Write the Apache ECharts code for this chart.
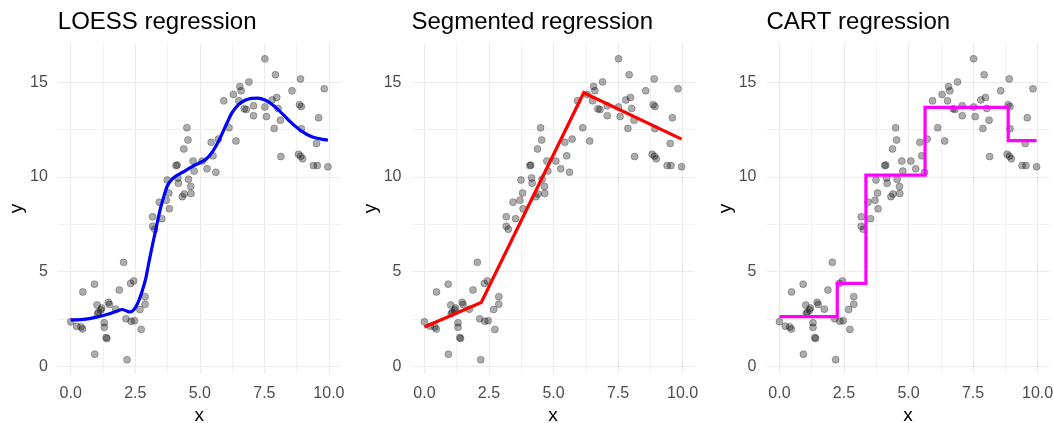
<!DOCTYPE html>
<html>
<head>
<meta charset="utf-8">
<script src="https://cdn.jsdelivr.net/npm/echarts@6/dist/echarts.min.js"></script>
<style>
  html, body { margin: 0; padding: 0; background: #ffffff; }
  #chart { width: 1053px; height: 423px; }
</style>
</head>
<body>
<div id="chart"></div>
<script>
// Observations (x, y)
const obsX = [
  0.00, 0.23, 0.40, 0.46, 0.47, 0.92, 0.93, 1.02, 1.04, 1.08,
  1.20, 1.17, 1.30, 1.30, 1.37, 1.40, 1.46, 1.50, 1.74, 1.88,
  2.05, 2.14, 2.18, 2.32, 2.34, 2.44, 2.47, 2.68, 2.73, 2.88,
  2.88, 3.17, 3.17, 3.25, 3.43, 3.53, 3.70, 3.82, 3.80, 3.74,
  4.08, 4.12, 4.15, 4.17, 4.32, 4.40, 4.38, 4.50, 4.54, 4.56,
  4.65, 4.66, 4.74, 4.78, 5.09, 5.28, 5.44, 5.51, 5.62, 5.72,
  5.93, 6.13, 6.30, 6.40, 6.51, 6.55, 6.60, 6.72, 6.80, 6.90,
  7.08, 7.08, 7.52, 7.52, 7.58, 7.80, 7.88, 7.93, 7.98, 8.03,
  8.12, 8.14, 8.57, 8.86, 8.90, 8.93, 8.93, 8.82, 8.91, 8.98,
  9.40, 9.55, 9.52, 9.60, 9.82, 9.96
];
const obsY = [
  2.35, 2.12, 2.08, 1.97, 3.93, 4.34, 0.64, 3.24, 2.78, 2.86,
  3.08, 2.97, 2.30, 2.06, 1.52, 1.47, 3.38, 3.26, 3.02, 4.03,
  5.49, 2.51, 0.35, 4.38, 2.38, 4.51, 2.41, 3.00, 1.95, 3.68,
  3.28, 7.90, 7.40, 7.24, 8.67, 7.80, 8.77, 8.32, 9.15, 9.84,
  10.60, 10.63, 9.95, 9.67, 8.96, 9.10, 11.48, 12.60, 11.95, 9.88,
  9.50, 9.13, 10.84, 10.31, 10.84, 10.43, 11.83, 11.12, 10.25, 12.00,
  14.02, 12.60, 14.36, 11.90, 14.02, 14.78, 14.55, 13.60, 13.56, 15.02,
  13.24, 13.76, 16.24, 13.70, 13.19, 14.07, 12.56, 15.40, 14.20, 13.62,
  13.00, 11.08, 14.55, 13.82, 15.18, 13.72, 12.55, 11.20, 11.10, 10.96,
  10.60, 10.60, 11.77, 13.13, 14.66, 10.54
];

// LOESS fit, evaluated along x
const loessX = [0, 0.5, 1.0, 1.5, 1.75, 2.0, 2.15, 2.3, 2.45, 2.6, 2.75, 2.9, 3.0, 3.15,
  3.3, 3.45, 3.6, 3.75, 3.9, 4.1, 4.4, 4.7, 5.0, 5.25, 5.5, 5.75, 6.0, 6.25, 6.5, 6.75,
  7.0, 7.25, 7.5, 7.75, 8.0, 8.25, 8.5, 8.75, 9.0, 9.25, 9.5, 9.75, 9.96];
const loessY = [2.45, 2.48, 2.6, 2.78, 2.9, 3.0, 2.93, 2.87, 3.0, 3.35, 3.9, 4.6, 5.3, 6.3,
  7.25, 8.2, 8.95, 9.55, 9.85, 10.07, 10.3, 10.55, 10.75, 10.95, 11.35, 11.95, 12.7, 13.4, 13.82, 14.05,
  14.15, 14.17, 14.08, 13.88, 13.6, 13.27, 12.92, 12.62, 12.37, 12.18, 12.06, 11.99, 11.95];

// Segmented fit (breakpoints)
const segX = [0, 2.2, 6.17, 9.96];
const segY = [2.08, 3.37, 14.45, 12.0];

// CART fit (split points and leaf values)
const cartX = [0, 2.24, 3.35, 5.64, 8.86, 9.96];
const cartY = [2.62, 4.38, 10.1, 13.68, 11.92, 11.92];

const panelTitles = ['LOESS regression', 'Segmented regression', 'CART regression'];
const xTickValues = [0, 2.5, 5, 7.5, 10];
const yTickValues = [0, 5, 10, 15];
const xMinorValues = [1.25, 3.75, 6.25, 8.75];
const yMinorValues = [2.5, 7.5, 12.5];

const FONT = 'Liberation Sans, Arial, Helvetica, sans-serif';
const panelLeft = [57.8, 411.5, 766.5];
const panelW = 283;
const panelTop = 43.5;
const panelH = 330;
const xRange = [-0.5, 10.46];
const yRange = [-0.38, 17.05];

const zip = (a, b) => a.map((v, i) => [v, b[i]]);
const points = zip(obsX, obsY);

function gridLines() {
  const major = { color: '#ebebeb', width: 1.1, type: 'solid' };
  const minor = { color: '#f1f1f1', width: 1, type: 'solid' };
  const d = [];
  xTickValues.forEach(v => d.push({ xAxis: v, lineStyle: major }));
  xMinorValues.forEach(v => d.push({ xAxis: v, lineStyle: minor }));
  yTickValues.forEach(v => d.push({ yAxis: v, lineStyle: major }));
  yMinorValues.forEach(v => d.push({ yAxis: v, lineStyle: minor }));
  return d;
}

const grids = [], xAxes = [], yAxes = [], series = [], titles = [];
const fits = [
  { data: zip(loessX, loessY), color: '#0000ff', smooth: 0.25, step: false },
  { data: zip(segX, segY), color: '#ff0000', smooth: false, step: false },
  { data: zip(cartX, cartY), color: '#ff00ff', smooth: false, step: 'end' }
];

for (let i = 0; i < 3; i++) {
  grids.push({
    left: panelLeft[i], top: panelTop, width: panelW, height: panelH,
    containLabel: false, outerBoundsMode: 'none'
  });
  titles.push({
    text: panelTitles[i], left: panelLeft[i], top: 10, padding: 0,
    textStyle: { fontFamily: FONT, fontSize: 24, fontWeight: 'normal', color: '#000000' }
  });
  xAxes.push({
    type: 'value', gridIndex: i, min: xRange[0], max: xRange[1],
    name: 'x', nameLocation: 'middle', nameGap: 33,
    nameTextStyle: { fontFamily: FONT, fontSize: 19, color: '#000000' },
    axisLine: { show: false }, axisTick: { show: false }, splitLine: { show: false },
    axisLabel: {
      customValues: xTickValues, margin: 12,
      fontFamily: FONT, fontSize: 16, color: '#4d4d4d',
      formatter: v => Number(v).toFixed(1)
    }
  });
  yAxes.push({
    type: 'value', gridIndex: i, min: yRange[0], max: yRange[1],
    name: 'y', nameLocation: 'middle', nameGap: 29, nameRotate: 90,
    nameTextStyle: { fontFamily: FONT, fontSize: 19, color: '#000000' },
    axisLine: { show: false }, axisTick: { show: false }, splitLine: { show: false },
    axisLabel: {
      customValues: yTickValues, margin: 10,
      fontFamily: FONT, fontSize: 16, color: '#4d4d4d',
      formatter: v => String(Math.round(v))
    }
  });
  // panel grid lines
  series.push({
    type: 'line', xAxisIndex: i, yAxisIndex: i, data: [], z: 0, silent: true,
    markLine: { silent: true, symbol: ['none', 'none'], z: 0, label: { show: false },
      emphasis: { disabled: true }, animation: false, data: gridLines() }
  });
  series.push({
    type: 'scatter', xAxisIndex: i, yAxisIndex: i, data: points, z: 2,
    symbolSize: 7, silent: true,
    itemStyle: { color: 'rgba(0,0,0,0.4)', borderColor: 'rgba(0,0,0,0.32)', borderWidth: 1 }
  });
  series.push({
    type: 'line', xAxisIndex: i, yAxisIndex: i, data: fits[i].data, z: 3,
    smooth: fits[i].smooth, step: fits[i].step,
    showSymbol: false, silent: true,
    lineStyle: { color: fits[i].color, width: 3.2, cap: 'butt', join: 'miter' }
  });
}

const chart = echarts.init(document.getElementById('chart'), null, { renderer: 'canvas' });
chart.setOption({
  animation: false,
  backgroundColor: '#ffffff',
  title: titles,
  grid: grids,
  xAxis: xAxes,
  yAxis: yAxes,
  series: series
});
</script>
</body>
</html>
